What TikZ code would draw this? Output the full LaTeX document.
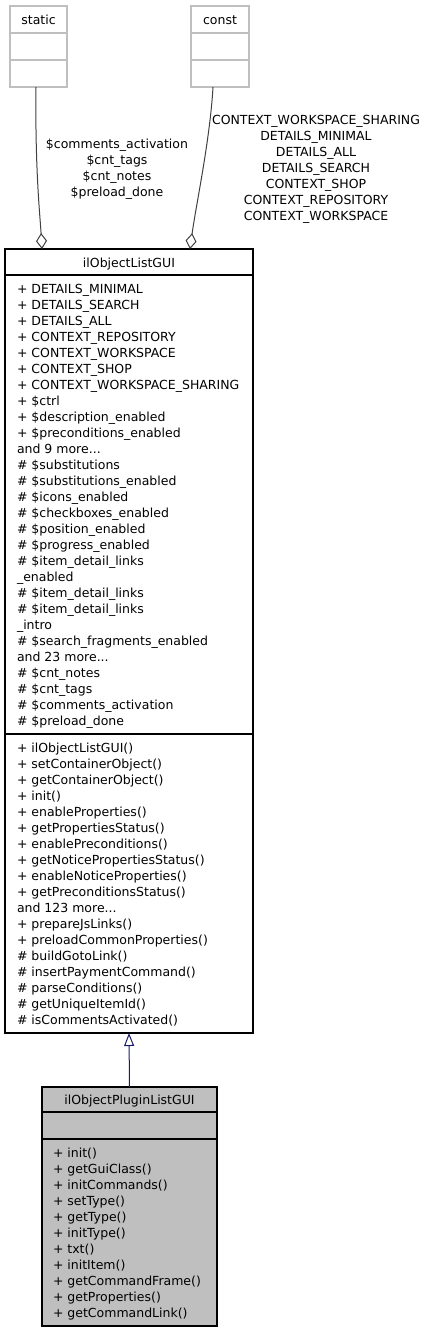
\documentclass[tikz,border=0pt]{standalone}
\usepackage{fontspec}
\setmainfont{DejaVu Sans}
\usetikzlibrary{arrows.meta}
\definecolor{edgegray}{HTML}{404040}
\definecolor{boxgray}{HTML}{BFBFBF}
\definecolor{inhnavy}{HTML}{191970}
\newcommand\tdots{...}
\begin{document}
\begin{tikzpicture}[x=1pt,y=-1pt,
  every node/.style={font=\fontsize{12.5}{16}\selectfont, inner sep=0pt, outer sep=0pt},
  lbl/.style={anchor=base west},
  ctr/.style={anchor=base},
  graybox/.style={draw=boxgray, line width=1.2pt},
  classbox/.style={draw=black, line width=1.1pt},
  sepline/.style={line width=1.7pt},
  agg/.style={draw=edgegray, line width=1pt, -{Diamond[open,length=16pt,width=11pt]}},
  inh/.style={draw=inhnavy, line width=1pt, -{Triangle[open,length=13pt,width=10pt]}}]
\useasboundingbox (0,0) rectangle (429,1333);
% static box
\node[graybox, minimum width=57pt, minimum height=81pt] (static) at (38.5,46.5) {};
\draw[boxgray, line width=1.2pt] (static.west |- 0,33) -- (static.east |- 0,33);
\draw[boxgray, line width=1.2pt] (static.west |- 0,60) -- (static.east |- 0,60);
\node[ctr] (statict) at (38.5,24) {static};
% const box
\node[graybox, minimum width=58pt, minimum height=81pt] (const) at (220,46.5) {};
\draw[boxgray, line width=1.2pt] (const.west |- 0,33) -- (const.east |- 0,33);
\draw[boxgray, line width=1.2pt] (const.west |- 0,60) -- (const.east |- 0,60);
\node[ctr] (constt) at (220,24) {const};
% main box
\node[classbox, fill=white, minimum width=248pt, minimum height=784pt] (main) at (129,641) {};
\draw[sepline] (main.west |- 0,275) -- (main.east |- 0,275);
\draw[sepline] (main.west |- 0,734) -- (main.east |- 0,734);
\node[ctr] (maint) at (129,267.5) {ilObjectListGUI};
\foreach \t [count=\i from 0] in {%
+ DETAILS\_MINIMAL, + DETAILS\_SEARCH, + DETAILS\_ALL, + CONTEXT\_REPOSITORY,
+ CONTEXT\_WORKSPACE, + CONTEXT\_SHOP, + CONTEXT\_WORKSPACE\_SHARING, + \$ctrl,
+ \$description\_enabled, + \$preconditions\_enabled, and 9 more\tdots, \# \$substitutions,
\# \$substitutions\_enabled, \# \$icons\_enabled, \# \$checkboxes\_enabled,
\# \$position\_enabled, \# \$progress\_enabled, \# \$item\_detail\_links, \_enabled,
\# \$item\_detail\_links, \# \$item\_detail\_links, \_intro, \# \$search\_fragments\_enabled,
and 23 more\tdots, \# \$cnt\_notes, \# \$cnt\_tags, \# \$comments\_activation, \# \$preload\_done}
  \node[lbl] (att\i) at (17,{293+16*\i}) {\t};
\foreach \t [count=\i from 0] in {%
+ ilObjectListGUI(), + setContainerObject(), + getContainerObject(), + init(),
+ enableProperties(), + getPropertiesStatus(), + enablePreconditions(),
+ getNoticePropertiesStatus(), + enableNoticeProperties(), + getPreconditionsStatus(),
and 123 more\tdots, + prepareJsLinks(), + preloadCommonProperties(), \# buildGotoLink(),
\# insertPaymentCommand(), \# parseConditions(), \# getUniqueItemId(), \# isCommentsActivated()}
  \node[lbl] (meth\i) at (17,{752+16*\i}) {\t};
% child box
\node[classbox, fill=boxgray, minimum width=175pt, minimum height=239pt] (child) at (129.5,1206.5) {};
\draw[sepline] (child.west |- 0,1112) -- (child.east |- 0,1112);
\draw[sepline] (child.west |- 0,1139) -- (child.east |- 0,1139);
\node[ctr] (childt) at (129.5,1104) {ilObjectPluginListGUI};
\foreach \t [count=\i from 0] in {%
+ init(), + getGuiClass(), + initCommands(), + setType(), + getType(), + initType(),
+ txt(), + initItem(), + getCommandFrame(), + getProperties(), + getCommandLink()}
  \node[lbl] (cm\i) at (53,{1157+16*\i}) {\t};
% edges
\draw[agg] (static.south -| 36,0) .. controls (35,170) and (40,215) .. (main.north -| 42,0);
\draw[agg] (const.south -| 213,0) .. controls (210,140) and (196,205) .. (main.north -| 190,0);
\draw[inh] (child.north) -- (main.south);
% edge labels
\foreach \t [count=\i from 0] in {\$comments\_activation, \$cnt\_tags, \$cnt\_notes, \$preload\_done}
  \node[ctr] (sl\i) at (117,{148.5+16*\i}) {\t};
\foreach \t [count=\i from 0] in {CONTEXT\_WORKSPACE\_SHARING, DETAILS\_MINIMAL, DETAILS\_ALL,
DETAILS\_SEARCH, CONTEXT\_SHOP, CONTEXT\_REPOSITORY, CONTEXT\_WORKSPACE}
  \node[ctr] (cl\i) at (316,{124+16*\i}) {\t};
\end{tikzpicture}
\end{document}
